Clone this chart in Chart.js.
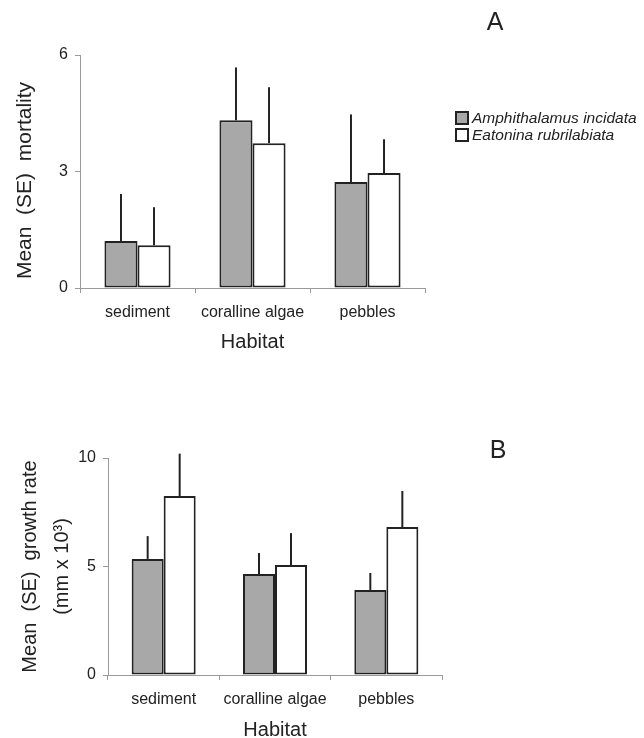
<!DOCTYPE html>
<html>
<head>
<meta charset="utf-8">
<script src="https://cdn.jsdelivr.net/npm/chart.js@4.4.0/dist/chart.umd.min.js"></script>
<style>
  html, body { margin: 0; padding: 0; background: #fff; }
  #wrap { position: relative; width: 644px; height: 738px; }
  canvas { position: absolute; left: 0; }
  #chartA { top: 0; }
  #chartB { top: 360px; }
</style>
</head>
<body>
<div id="wrap">
  <canvas id="chartA" width="644" height="360"></canvas>
  <canvas id="chartB" width="644" height="378"></canvas>
</div>
<script>
// ── Data ──
const habitats = ['sediment', 'coralline algae', 'pebbles']
const species = ['Amphithalamus incidata', 'Eatonina rubrilabiata']

// A: mortality
const mortAmph = [1.21, 4.32, 2.73]
const mortAmphSE = [1.21, 1.36, 1.74]
const mortEat = [1.10, 3.73, 2.96]
const mortEatSE = [0.98, 1.44, 0.87]
const mortTicks = [0, 3, 6]

// B: growth rate (mm x 10^3)
const growthAmph = [5.35, 4.65, 3.92]
const growthAmphSE = [1.05, 0.97, 0.78]
const growthEat = [8.25, 5.07, 6.82]
const growthEatSE = [1.95, 1.47, 1.66]
const growthTicks = [0, 5, 10]

const GRAY = '#a8a8a8'
const INK = '#222'
const AXIS = '#9a9a9a'
const FONT = '"Liberation Sans", Arial, sans-serif'

// upper-only error bars, no caps
const errorBars = {
  id: 'errorBars',
  afterDatasetsDraw(chart) {
    const { ctx } = chart
    const y = chart.scales.y
    ctx.save()
    ctx.strokeStyle = INK
    ctx.lineWidth = 2
    chart.data.datasets.forEach((ds, i) => {
      chart.getDatasetMeta(i).data.forEach((bar, j) => {
        const top = y.getPixelForValue(ds.data[j] + ds.se[j])
        ctx.beginPath()
        ctx.moveTo(bar.x, bar.y)
        ctx.lineTo(bar.x, top)
        ctx.stroke()
      })
    })
    ctx.restore()
  },
}

// axis titles, panel letter, legend
const annotations = {
  id: 'annotations',
  afterDraw(chart, args, opts) {
    const { ctx, chartArea } = chart
    ctx.save()
    ctx.fillStyle = INK
    ctx.textAlign = 'center'
    ctx.textBaseline = 'middle'

    // x title
    ctx.font = `20px ${FONT}`
    ctx.fillText('Habitat', (chartArea.left + chartArea.right) / 2, opts.xTitleY)

    // y title (rotated)
    ctx.font = `${opts.yTitleSize}px ${FONT}`
    opts.yTitle.forEach((line, k) => {
      ctx.save()
      ctx.translate(opts.yTitleX[k], (chartArea.top + chartArea.bottom) / 2 + opts.yTitleShift)
      ctx.rotate(-Math.PI / 2)
      ctx.fillText(line, 0, 0)
      ctx.restore()
    })

    // panel letter
    ctx.font = `25px ${FONT}`
    ctx.fillText(opts.letter, opts.letterX, opts.letterY)

    // legend
    if (opts.legend) {
      ctx.textAlign = 'left'
      ctx.font = `italic 15.5px ${FONT}`
      chart.data.datasets.forEach((ds, i) => {
        const ly = opts.legendY + i * 17
        ctx.fillStyle = ds.backgroundColor
        ctx.fillRect(456, ly - 6, 12, 12)
        ctx.strokeStyle = INK
        ctx.lineWidth = 2
        ctx.strokeRect(456, ly - 6, 12, 12)
        ctx.fillStyle = INK
        ctx.fillText(ds.label, 472, ly + 1)
      })
    }
    ctx.restore()
  },
}

function makeChart(id, cfg) {
  return new Chart(document.getElementById(id), {
    type: 'bar',
    data: {
      labels: habitats,
      datasets: [
        { label: species[0], data: cfg.amph, se: cfg.amphSE, backgroundColor: GRAY },
        { label: species[1], data: cfg.eat, se: cfg.eatSE, backgroundColor: '#fff' },
      ],
    },
    options: {
      responsive: false,
      animation: false,
      layout: { padding: { top: cfg.padTop, right: cfg.padRight, left: 0, bottom: 0 } },
      datasets: {
        bar: {
          borderColor: INK,
          borderWidth: 2,
          borderSkipped: false,
          categoryPercentage: 0.575,
          barPercentage: 1,
        },
      },
      plugins: {
        legend: { display: false },
        tooltip: { enabled: false },
        annotations: cfg.notes,
      },
      scales: {
        x: {
          afterFit: s => { s.height = cfg.xHeight },
          border: { color: AXIS, width: 1 },
          grid: { display: true, drawOnChartArea: false, offset: true, color: AXIS, tickLength: 5 },
          ticks: { color: INK, font: { family: FONT, size: 16 }, padding: 10, maxRotation: 0 },
        },
        y: {
          min: cfg.ticks[0],
          max: cfg.ticks[cfg.ticks.length - 1],
          afterFit: s => { s.width = cfg.yWidth },
          afterBuildTicks: s => { s.ticks = cfg.ticks.map(v => ({ value: v })) },
          border: { color: AXIS, width: 1 },
          grid: { display: true, drawOnChartArea: false, color: AXIS, tickLength: 5 },
          ticks: { color: INK, font: { family: FONT, size: 16 }, padding: 7 },
        },
      },
    },
    plugins: [errorBars, annotations],
  })
}

makeChart('chartA', {
  amph: mortAmph, amphSE: mortAmphSE, eat: mortEat, eatSE: mortEatSE, ticks: mortTicks,
  padTop: 55, padRight: 219, xHeight: 72, yWidth: 80,
  notes: {
    xTitleY: 342, yTitle: ['Mean  (SE)  mortality'], yTitleX: [25], yTitleShift: 9, yTitleSize: 21,
    letter: 'A', letterX: 495, letterY: 23, legend: true, legendY: 118,
  },
})

makeChart('chartB', {
  amph: growthAmph, amphSE: growthAmphSE, eat: growthEat, eatSE: growthEatSE, ticks: growthTicks,
  padTop: 98, padRight: 202, xHeight: 63, yWidth: 108,
  notes: {
    xTitleY: 370, yTitle: ['Mean  (SE)  growth rate', '(mm x 10³)'], yTitleX: [30, 62], yTitleShift: 0, yTitleSize: 20,
    letter: 'B', letterX: 498, letterY: 91, legend: false,
  },
})
</script>
</body>
</html>
